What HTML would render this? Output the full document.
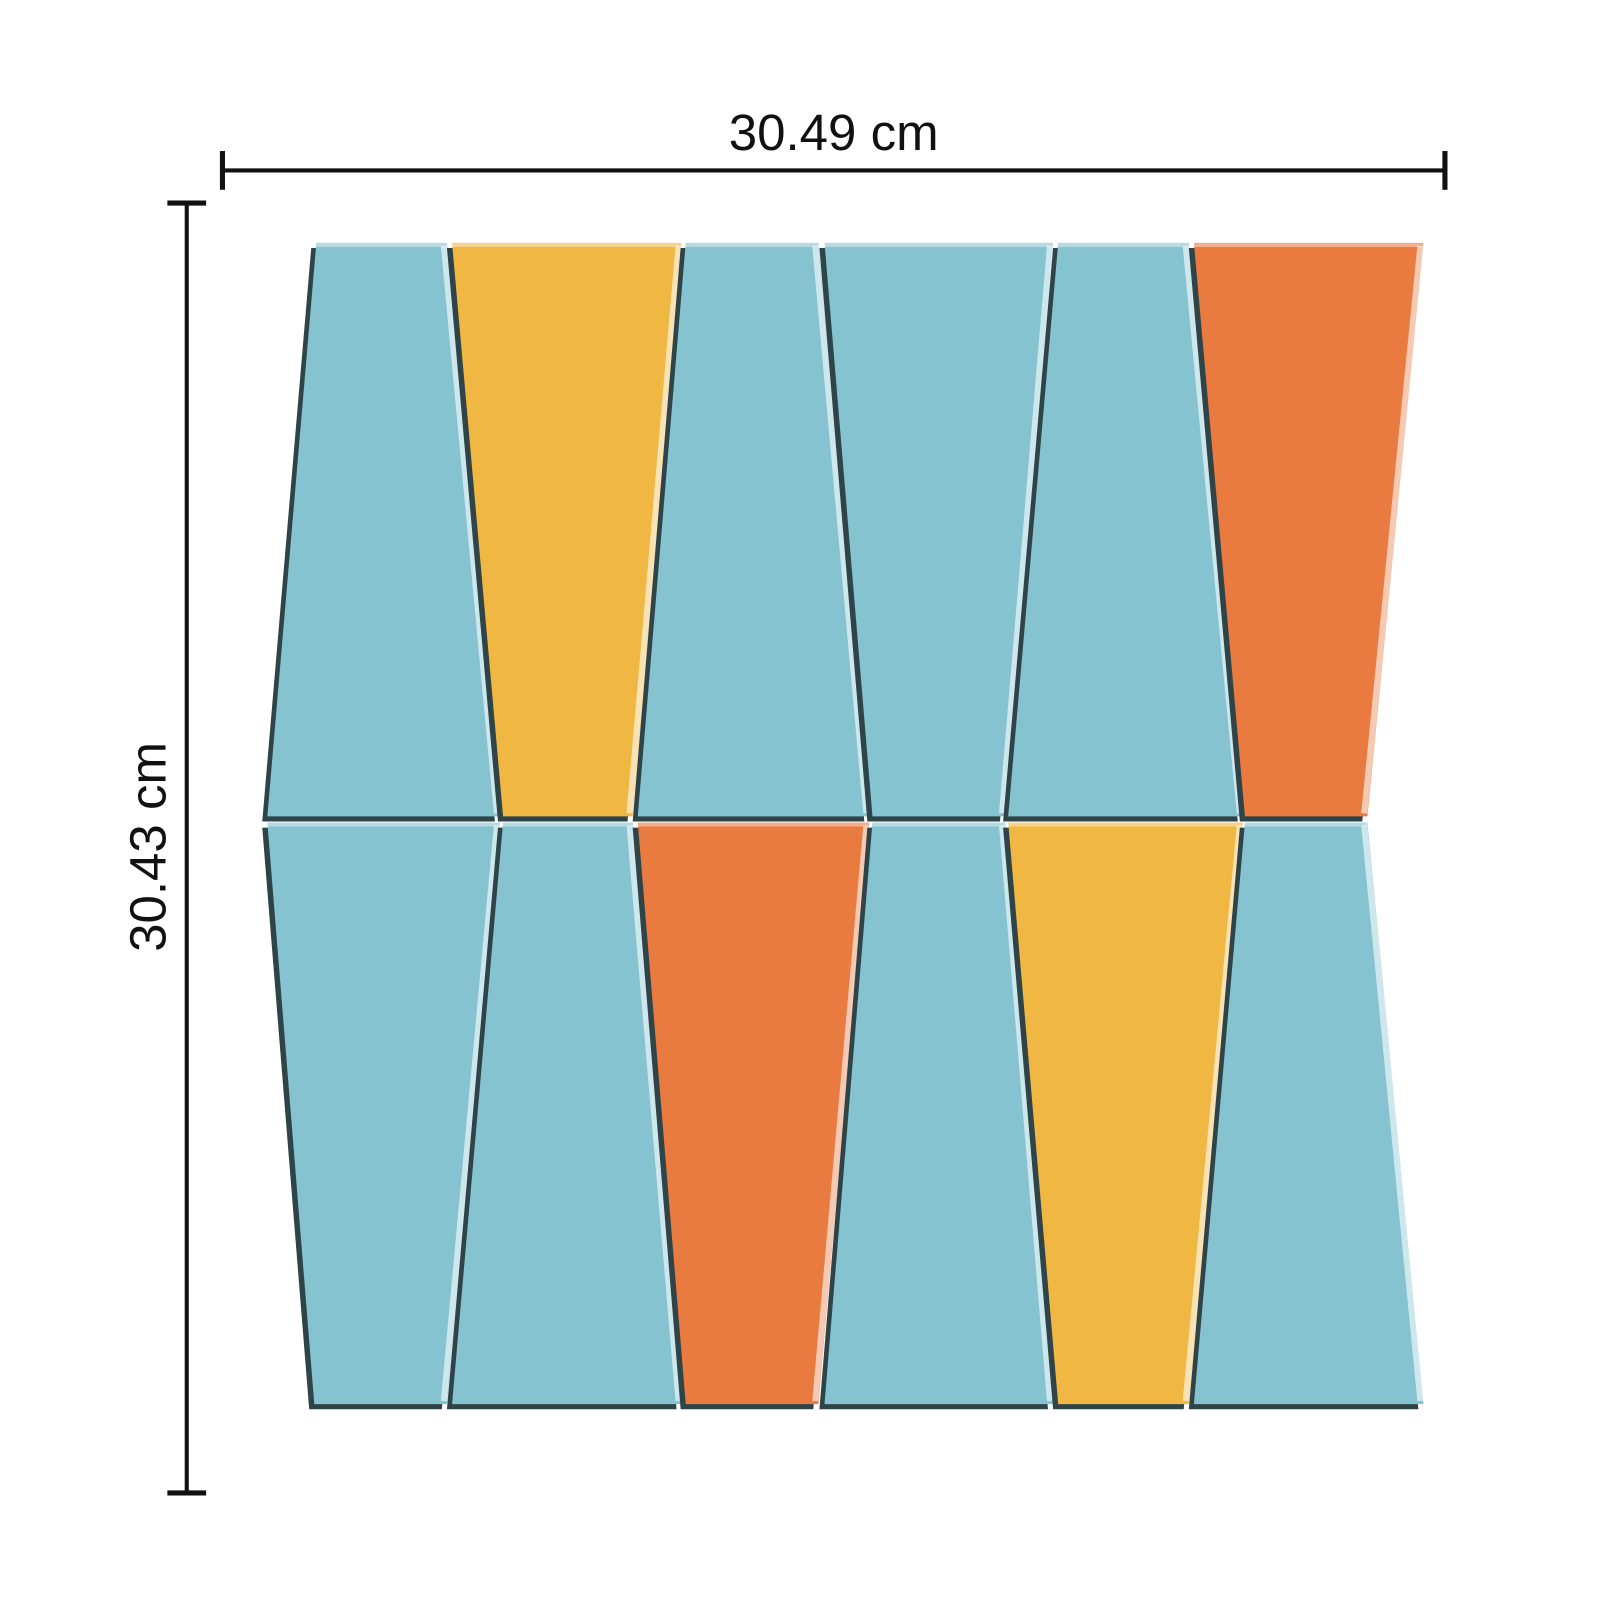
<!DOCTYPE html>
<html><head><meta charset="utf-8"><style>
html,body{margin:0;padding:0;background:#fff}
svg{display:block}
text{font-family:"Liberation Sans",sans-serif;fill:#111}
</style></head><body>
<svg id="s" width="1598" height="1598" viewBox="0 0 1566 1566">
<g>
<line x1="218" y1="167" x2="1416" y2="167" stroke="#111" stroke-width="4"/>
<line x1="218" y1="148" x2="218" y2="186" stroke="#111" stroke-width="5"/>
<line x1="1416" y1="148" x2="1416" y2="186" stroke="#111" stroke-width="5"/>
<text x="817" y="147" font-size="50" text-anchor="middle">30.49 cm</text>
</g>
<g>
<line x1="183" y1="199" x2="183" y2="1463" stroke="#111" stroke-width="4"/>
<line x1="164" y1="199" x2="202" y2="199" stroke="#111" stroke-width="5"/>
<line x1="164" y1="1463" x2="202" y2="1463" stroke="#111" stroke-width="5"/>
<text x="0" y="0" font-size="50" text-anchor="middle" transform="translate(162,830) rotate(-90)">30.43 cm</text>
</g>
<g id="tiles"></g>
</svg>
<script>
const colors={b:"#86c3d0",y:"#f1b743",o:"#e97a40"};
const topRowColors=["b","y","b","b","b","o"];
const botRowColors=["b","b","o","b","y","b"];
// [topLeft, topRight, bottomLeft, bottomRight]
const topRowX=[[310,438,262,490],[443,668,493,620],[672,802,625,852],[808,1032,855,985],[1037,1165,988,1218],[1170,1395,1220,1340]];
const botRowX=[[262,490,308,438],[493,620,443,668],[625,852,672,802],[855,985,808,1032],[988,1218,1037,1165],[1220,1340,1170,1395]];
const rowsY=[[238,800],[806,1376]];
const g=document.getElementById('tiles');
const NS="http://www.w3.org/2000/svg";
function tile(xs,y0,y1,c,name){
  const grp=document.createElementNS(NS,'g');
  
  
  const pts=(dx,dy)=>`${xs[0]+dx},${y0+dy} ${xs[1]+dx},${y0+dy} ${xs[3]+dx},${y1+dy} ${xs[2]+dx},${y1+dy}`;
  const sh=document.createElementNS(NS,'polygon');
  sh.setAttribute('points',pts(-5,5));sh.setAttribute('fill','#2f4448');
  const p=document.createElementNS(NS,'polygon');
  p.setAttribute('points',pts(0,0));p.setAttribute('fill',colors[c]);
  const hl=document.createElementNS(NS,'line');
  hl.setAttribute('x1',xs[1]-3);hl.setAttribute('y1',y0+3);hl.setAttribute('x2',xs[3]-3);hl.setAttribute('y2',y1-3);
  hl.setAttribute('stroke','rgba(255,255,255,0.6)');hl.setAttribute('stroke-width','6');
  const tl=document.createElementNS(NS,'line');
  tl.setAttribute('x1',xs[0]);tl.setAttribute('y1',y0+2);tl.setAttribute('x2',xs[1]);tl.setAttribute('y2',y0+2);
  tl.setAttribute('stroke','rgba(255,255,255,0.4)');tl.setAttribute('stroke-width','4');
  grp.appendChild(sh);grp.appendChild(p);grp.appendChild(hl);grp.appendChild(tl);
  g.appendChild(grp);
}
topRowX.forEach((xs,i)=>tile(xs,rowsY[0][0],rowsY[0][1],topRowColors[i],'top-tile-'+(i+1)));
botRowX.forEach((xs,i)=>tile(xs,rowsY[1][0],rowsY[1][1],botRowColors[i],'bottom-tile-'+(i+1)));
</script>
</body></html>
